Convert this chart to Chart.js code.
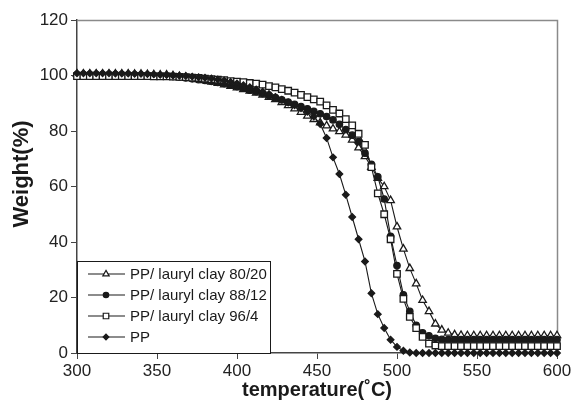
<!DOCTYPE html>
<html>
<head>
<meta charset="utf-8">
<script src="https://cdn.jsdelivr.net/npm/chart.js@4/dist/chart.umd.min.js"></script>
<style>
  html, body { margin:0; padding:0; background:#fff; }
  #wrap { width:577px; height:414px; }
</style>
</head>
<body>
<div id="wrap"><canvas id="tga" width="577" height="414"></canvas></div>
<script>
// TGA curves: weight loss vs temperature for PP and PP/lauryl clay blends

const temps = [
  300, 304, 308, 312, 316, 320, 324, 328, 332, 336, 340, 344, 348, 352, 356, 360, 364, 368, 372,
  376, 380, 384, 388, 392, 396, 400, 404, 408, 412, 416, 420, 424, 428, 432, 436, 440, 444, 448,
  452, 456, 460, 464, 468, 472, 476, 480, 484, 488, 492, 496, 500, 504, 508, 512, 516, 520, 524,
  528, 532, 536, 540, 544, 548, 552, 556, 560, 564, 568, 572, 576, 580, 584, 588, 592, 596, 600
];

const clay8020 = [
  100.6, 100.6, 100.6, 100.6, 100.6, 100.6, 100.6, 100.6, 100.6, 100.5, 100.5, 100.4, 100.3, 100.2, 100.2, 100.0, 99.7, 99.4, 99.0,
  98.6, 98.2, 97.7, 97.2, 96.7, 96.1, 95.6, 95.0, 94.4, 93.7, 93.0, 92.2, 91.4, 90.3, 89.2, 88.0, 86.8, 85.4, 84.2,
  83.0, 81.9, 80.8, 79.8, 78.6, 76.8, 74.0, 70.8, 67.0, 63.0, 60.0, 55.0, 45.5, 37.5, 30.5, 25.0, 19.0, 15.0, 10.5,
  8.3, 7.2, 6.6, 6.4, 6.3, 6.3, 6.3, 6.3, 6.3, 6.3, 6.3, 6.3, 6.3, 6.3, 6.3, 6.3, 6.3, 6.3, 6.3
];

const clay8812 = [
  100.3, 100.3, 100.3, 100.3, 100.3, 100.3, 100.3, 100.3, 100.2, 100.2, 100.1, 100.1, 100.0, 99.9, 99.8, 99.6, 99.4, 99.1, 98.8,
  98.5, 98.2, 97.9, 97.5, 97.1, 96.6, 96.0, 95.4, 94.7, 94.2, 93.5, 92.8, 92.0, 91.2, 90.4, 89.6, 88.8, 88.0, 87.1,
  86.2, 85.2, 84.0, 82.4, 80.5, 78.5, 76.2, 72.0, 68.0, 63.5, 55.5, 42.0, 31.5, 21.0, 15.0, 10.0, 7.3, 6.2, 5.3,
  4.9, 4.8, 4.8, 4.8, 4.8, 4.8, 4.8, 4.8, 4.8, 4.8, 4.8, 4.8, 4.8, 4.8, 4.8, 4.8, 4.8, 4.8, 4.8
];

const clay964 = [
  99.8, 99.8, 99.8, 99.8, 99.8, 99.8, 99.8, 99.8, 99.8, 99.8, 99.8, 99.8, 99.7, 99.7, 99.7, 99.6, 99.5, 99.4, 99.2,
  99.1, 98.9, 98.7, 98.5, 98.3, 98.0, 97.8, 97.6, 97.3, 97.1, 96.7, 96.2, 95.7, 95.1, 94.5, 93.8, 93.0, 92.2, 91.4,
  90.6, 89.2, 87.6, 86.3, 84.3, 82.0, 79.0, 75.0, 67.0, 57.5, 50.0, 41.0, 28.5, 19.5, 13.0, 9.0, 5.8, 3.4, 2.7,
  2.5, 2.5, 2.5, 2.5, 2.5, 2.5, 2.5, 2.5, 2.5, 2.5, 2.5, 2.5, 2.5, 2.5, 2.5, 2.5, 2.5, 2.5, 2.5
];

const ppOnly = [
  100.8, 100.8, 100.8, 100.8, 100.8, 100.8, 100.7, 100.7, 100.7, 100.6, 100.6, 100.5, 100.4, 100.3, 100.2, 100.0, 99.9, 99.8, 99.6,
  99.4, 99.2, 98.9, 98.6, 98.2, 97.7, 97.1, 96.5, 95.8, 95.0, 94.2, 93.3, 92.3, 91.3, 90.3, 89.3, 88.2, 86.9, 85.2,
  82.5, 77.5, 70.5, 64.5, 57.0, 49.0, 41.0, 33.0, 21.5, 14.0, 9.0, 4.8, 2.2, 0.8, 0.2, 0, 0, 0, 0,
  0, 0, 0, 0, 0, 0, 0, 0, 0, 0, 0, 0, 0, 0, 0, 0, 0, 0, 0
];

const seriesNames = ['PP/ lauryl clay 80/20', 'PP/ lauryl clay 88/12', 'PP/ lauryl clay 96/4', 'PP'];
const xTicks = [300, 350, 400, 450, 500, 550, 600];
const yTicks = [0, 20, 40, 60, 80, 100, 120];

const FONT = '"Liberation Sans", Arial, Helvetica, sans-serif';
const INK = '#1a1a1a';

function pts(vals) {
  return temps.map((t, i) => ({ x: t, y: vals[i] }));
}

function series(label, vals, style, radius, fill) {
  return {
    label,
    data: pts(vals),
    borderColor: INK,
    borderWidth: 1.1,
    pointStyle: style,
    pointRadius: radius,
    pointBorderWidth: 1.3,
    pointBorderColor: INK,
    pointBackgroundColor: fill,
    tension: 0,
    clip: false
  };
}

const datasets = [
  series(seriesNames[3], ppOnly, 'rectRot', 3.3, INK),
  series(seriesNames[2], clay964, 'rect', 4.6, '#fff'),
  series(seriesNames[1], clay8812, 'circle', 3.2, INK),
  series(seriesNames[0], clay8020, 'triangle', 4.3, '#fff')
];

// grey frame on top/right, y-axis title, boxed legend in the lower-left corner
const framePlugin = {
  id: 'frame',
  beforeDatasetsDraw(chart) {
    const { ctx, chartArea: a } = chart;
    ctx.save();
    ctx.strokeStyle = '#8a8a8a';
    ctx.lineWidth = 1.5;
    ctx.beginPath();
    ctx.moveTo(a.left, a.top + 0.5);
    ctx.lineTo(a.right + 0.5, a.top + 0.5);
    ctx.lineTo(a.right + 0.5, a.bottom);
    ctx.stroke();

    ctx.translate(22, 174);
    ctx.rotate(-Math.PI / 2);
    ctx.font = 'bold 22px ' + FONT;
    ctx.fillStyle = INK;
    ctx.textAlign = 'center';
    ctx.textBaseline = 'middle';
    ctx.fillText('Weight(%)', 0, 0);
    ctx.restore();
  },
  afterDatasetsDraw(chart) {
    const { ctx, chartArea: a } = chart;
    const boxL = a.left, boxR = a.left + 193, boxT = a.bottom - 92, boxB = a.bottom;
    ctx.save();
    ctx.fillStyle = '#fff';
    ctx.fillRect(boxL, boxT, boxR - boxL, boxB - boxT);
    ctx.strokeStyle = INK;
    ctx.lineWidth = 1;
    ctx.strokeRect(boxL + 0.5, boxT + 0.5, boxR - boxL, boxB - boxT);

    const order = [3, 2, 1, 0];
    ctx.font = '15px ' + FONT;
    ctx.textBaseline = 'middle';
    order.forEach((di, row) => {
      const ds = chart.data.datasets[di];
      const y = boxT + 13 + row * 21;
      ctx.strokeStyle = INK;
      ctx.lineWidth = 1.1;
      ctx.beginPath();
      ctx.moveTo(boxL + 11, y);
      ctx.lineTo(boxL + 48, y);
      ctx.stroke();
      ctx.fillStyle = ds.pointBackgroundColor;
      ctx.strokeStyle = INK;
      ctx.lineWidth = 1.2;
      Chart.helpers.drawPoint(ctx, {
        pointStyle: ds.pointStyle,
        radius: ds.pointRadius * 0.85,
        rotation: 0,
        borderWidth: 1.2
      }, boxL + 29, y);
      ctx.fillStyle = INK;
      ctx.fillText(ds.label, boxL + 53, y + 1);
    });
    ctx.restore();
  }
};

new Chart(document.getElementById('tga'), {
  type: 'line',
  data: { datasets },
  options: {
    responsive: false,
    animation: false,
    layout: { padding: { top: 20, right: 20, left: 0, bottom: 0 } },
    plugins: { legend: { display: false }, tooltip: { enabled: false } },
    scales: {
      x: {
        type: 'linear',
        min: xTicks[0],
        max: xTicks[xTicks.length - 1],
        afterBuildTicks: s => { s.ticks = xTicks.map(v => ({ value: v })); },
        afterFit: s => { s.height = 61; },
        grid: { drawOnChartArea: false, drawTicks: true, tickLength: 6, color: '#444' },
        border: { color: '#444', width: 1.5 },
        ticks: { color: '#222', padding: 2, font: { family: FONT, size: 17 } },
        title: {
          display: true,
          text: 'temperature(˚C)',
          color: INK,
          font: { family: FONT, size: 20, weight: 'bold' },
          padding: { top: 0, bottom: 12 }
        }
      },
      y: {
        min: yTicks[0],
        max: yTicks[yTicks.length - 1],
        afterBuildTicks: s => { s.ticks = yTicks.map(v => ({ value: v })); },
        afterFit: s => { s.width = 77; },
        grid: { drawOnChartArea: false, drawTicks: true, tickLength: 6, color: '#444' },
        border: { color: '#444', width: 1.5 },
        ticks: { color: '#222', padding: 3, font: { family: FONT, size: 17 } }
      }
    }
  },
  plugins: [framePlugin]
});
</script>
</body>
</html>
